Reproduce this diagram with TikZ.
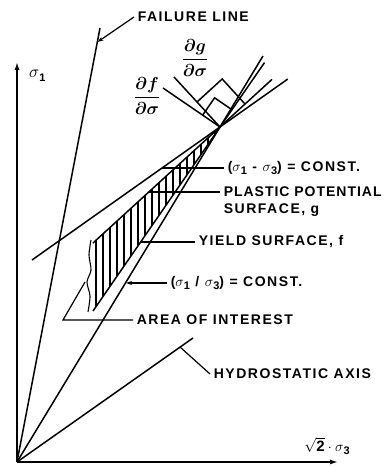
\documentclass[tikz,border=0pt]{standalone}
\usepackage{fontspec}
\setmainfont{Liberation Sans}
\newfontfamily\lblfont{Liberation Sans}[LetterSpace=11]
\newfontfamily\lblfontn{Liberation Sans}[LetterSpace=7]
\usetikzlibrary{arrows.meta,positioning}
\newcommand{\sbs}[1]{\raisebox{-0.4ex}{\fontsize{11}{12}\selectfont #1}}
\newcommand{\dfrac}[1]{$\displaystyle\frac{\partial #1}{\partial\sigma}$}

\begin{document}
\begin{tikzpicture}[x=1pt, y=1pt, line width=1.5pt,
    lbl/.style={font=\lblfont\bfseries\fontsize{14}{16}\selectfont, inner xsep=3pt, inner ysep=0pt, anchor=west},
    leader/.style={line width=1.2pt},
    deriv/.style={font=\boldmath\fontsize{16}{18}\selectfont, inner sep=0pt},
    axis/.style={-{Latex[length=8pt,width=5pt]}}]
  \useasboundingbox (-17,-4) rectangle (372,462);
  % Axes
  \coordinate (O) at (0,0);
  \coordinate (s1end) at (0,400);
  \coordinate (s3end) at (321,0);
  \draw[axis] (O) -- (s1end);
  \draw[axis] (O) -- (s3end);
  \node[font=\bfseries\fontsize{17}{18}\selectfont, anchor=west] (s1lbl) at (8,386) {$\sigma$\sbs{1}};
  \node[font=\bfseries\fontsize{15}{18}\selectfont] (s3lbl) at (310,16) {$\sqrt{\mathbf{2}}\cdot\sigma$\sbs{3}};
  % Lines from the origin
  \coordinate (fail) at (83,434);
  \coordinate (apex) at (203,335);
  \coordinate (ratio) at (246,406);
  \coordinate (hydro) at (176,124);
  \draw (O) -- (fail);
  \draw (O) -- (ratio);
  \draw (O) -- (hydro);
  % Surfaces through the apex
  \coordinate (f0) at (76,151);
  \coordinate (f1) at (247.5,399.4);
  \coordinate (g0) at (76,219);
  \coordinate (g1) at (255,382.6);
  \coordinate (d0) at (15,202);
  \coordinate (d1) at (270.7,382.9);
  \draw (f0) -- (f1);
  \draw (g0) -- (g1);
  \draw (d0) -- (d1);
  % Hatched band between f and g
  \begin{scope}
    \clip (g0) -- (apex) -- (f0) -- cycle;
    \foreach \x in {79,86,...,200}
      \draw[line width=1.1pt] (\x,140) -- (\x,340);
  \end{scope}
  \draw[line width=1.1pt] plot[smooth] coordinates {(74,222) (72,207) (74,192) (70,180) (73,166) (71,150)};
  % Normals and right angles
  \coordinate (nf) at (146,374);
  \coordinate (ng) at (157,385);
  \draw (apex) -- (nf);
  \draw (apex) -- (ng);
  \coordinate (nf1) at (185.7,346.9);
  \coordinate (nf2) at (197.6,364.2);
  \coordinate (nf3) at (214.9,352.3);
  \draw (nf1) -- (nf2) -- (nf3);
  \coordinate (ng1) at (180.1,360.1);
  \coordinate (ng2) at (205.2,383.0);
  \coordinate (ng3) at (228.1,357.9);
  \draw (ng1) -- (ng2) -- (ng3);
  \node[deriv] (dfd) at (130,366) {\dfrac{f}};
  \node[deriv] (dgd) at (178,404) {\dfrac{g}};
  % Labels and leaders
  \coordinate (failpt) at (80.5,420);
  \node[lbl] (tfail) at (117,445) {FAILURE LINE};
  \draw[leader, -{Stealth[length=6pt,width=4pt]}] (tfail.west) -- (failpt);
  \coordinate (devpt) at (145,294);
  \node[lbl] (tdev) at (207,294) {($\sigma$\sbs{1} - $\sigma$\sbs{3}) = CONST.};
  \draw[leader] (devpt) -- (tdev.west);
  \coordinate (pppt) at (132,270);
  \node[lbl, font=\lblfontn\bfseries\fontsize{14}{16}\selectfont] (tpp) at (203,270) {PLASTIC POTENTIAL};
  \node[lbl, anchor=north west] (tpp2) at ([yshift=-5pt]tpp.south west) {SURFACE, g};
  \draw[leader] (pppt) -- (tpp.west);
  \coordinate (yfpt) at (124,220);
  \node[lbl] (tyf) at (178,220) {YIELD SURFACE, f};
  \draw[leader] (yfpt) -- (tyf.west);
  \coordinate (ratpt) at (109,179);
  \node[lbl] (trat) at (150,179) {($\sigma$\sbs{1} / $\sigma$\sbs{3}) = CONST.};
  \draw[leader, -{Stealth[length=6pt,width=4pt]}] (trat.west) -- (ratpt);
  \coordinate (aoipt) at (68,180);
  \coordinate (aoibend) at (46,142);
  \node[lbl] (taoi) at (116,142) {AREA OF INTEREST};
  \draw[leader] (aoipt) -- (aoibend) -- (taoi.west);
  \coordinate (hydpt) at (163,115);
  \node[lbl] (thyd) at (193,88) {HYDROSTATIC AXIS};
  \draw[leader] (hydpt) -- (thyd.west);
\end{tikzpicture}
\end{document}
